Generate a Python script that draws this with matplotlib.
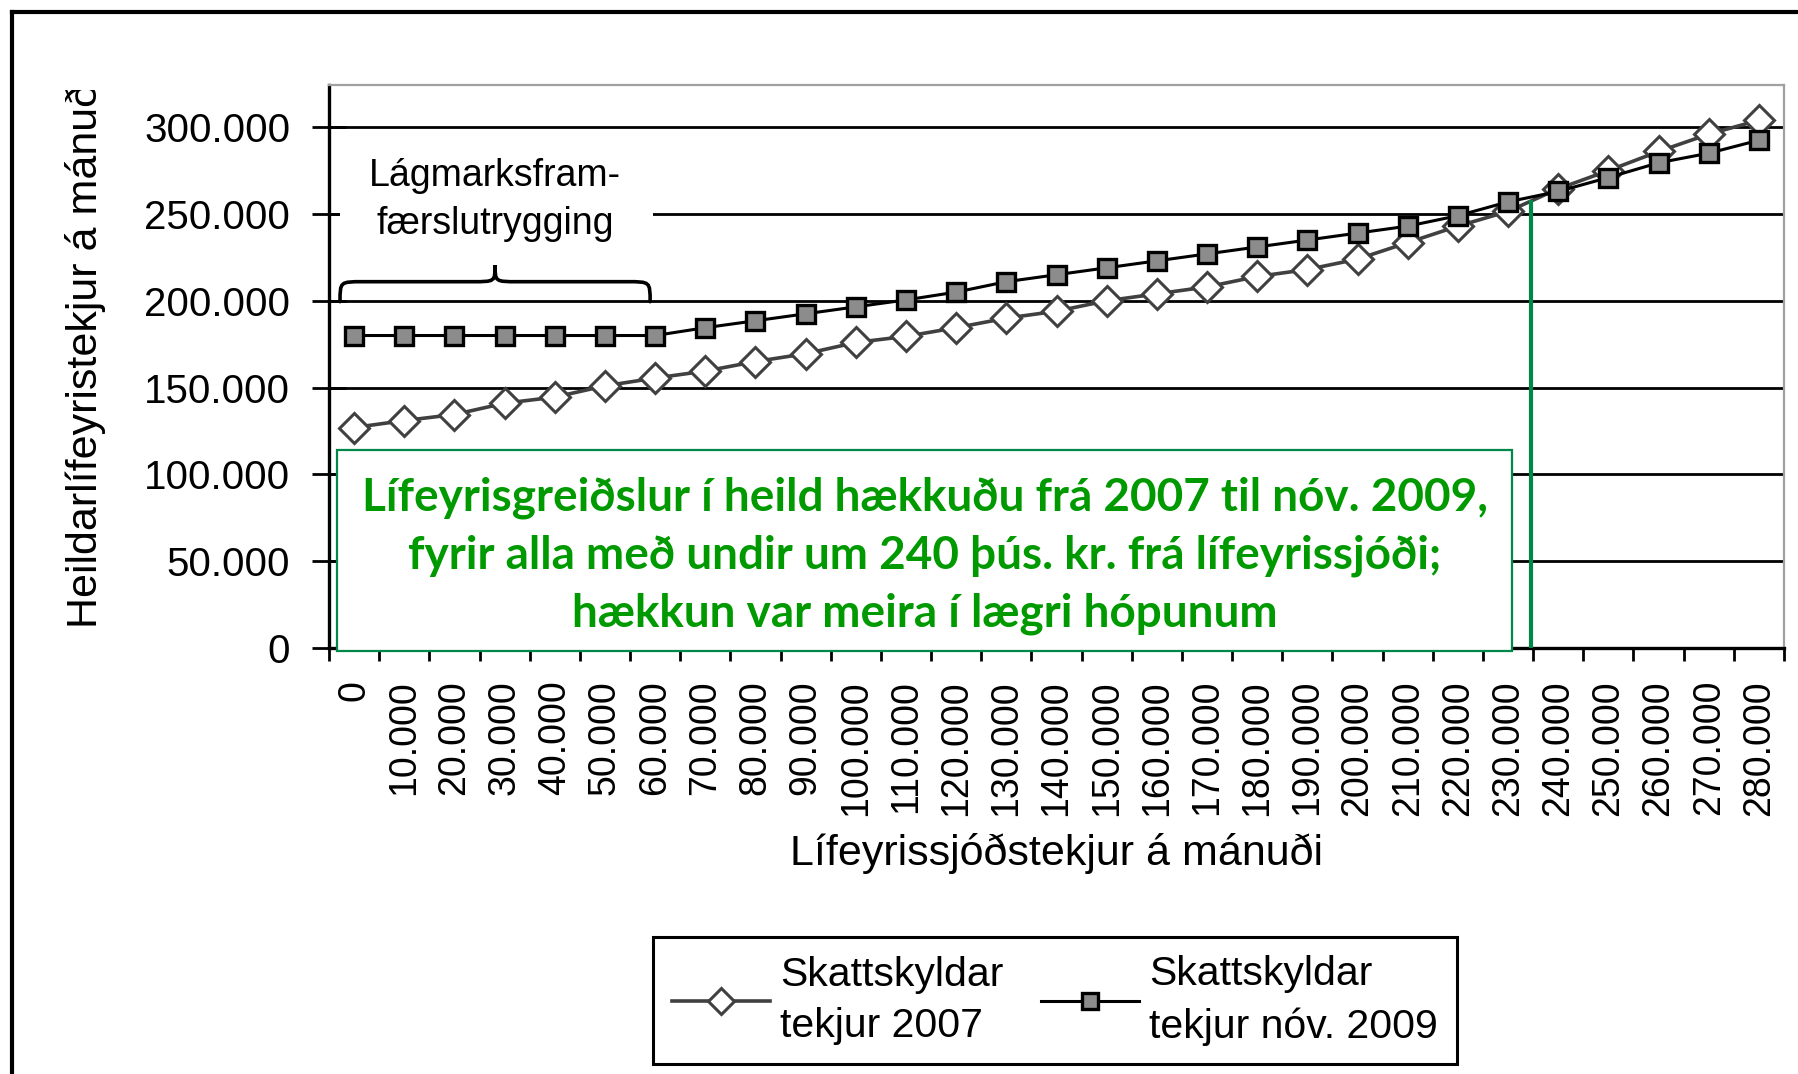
import numpy as np
import matplotlib.pyplot as plt
from matplotlib.patches import Rectangle, PathPatch
from matplotlib.path import Path
from matplotlib.lines import Line2D
from matplotlib.transforms import Bbox

plt.rcParams['font.family'] = ['Liberation Sans', 'DejaVu Sans']

# gögn
x_labels = ["0", "10.000", "20.000", "30.000", "40.000", "50.000", "60.000",
            "70.000", "80.000", "90.000", "100.000", "110.000", "120.000",
            "130.000", "140.000", "150.000", "160.000", "170.000", "180.000",
            "190.000", "200.000", "210.000", "220.000", "230.000", "240.000",
            "250.000", "260.000", "270.000", "280.000"]
tekjur_2007 = [127000, 131000, 134500, 141000, 144500, 151000, 155500,
               159500, 165000, 169500, 176000, 179500, 184500, 190000,
               194000, 200000, 204000, 208000, 214000, 218000, 224000,
               233500, 243000, 251500, 264500, 275000, 286000, 296000, 304000]
tekjur_2009 = [180000, 180000, 180000, 180000, 180000, 180000, 180000,
               184500, 188500, 192500, 196500, 200500, 205000, 211000,
               215000, 219000, 223000, 227000, 231000, 235000, 239000,
               243000, 249000, 257000, 263000, 271000, 279500, 285000, 292500]
y_ticks = [0, 50000, 100000, 150000, 200000, 250000, 300000]
y_labels = ["0", "50.000", "100.000", "150.000", "200.000", "250.000", "300.000"]
series_names = ["Skattskyldar\ntekjur 2007", "Skattskyldar\ntekjur nóv. 2009"]

W, H = 1798, 1074
fig = plt.figure(figsize=(W / 100, H / 100), dpi=100)
ax = fig.add_axes([329 / W, 1 - 648 / H, (1784 - 329) / W, (648 - 85) / H])

x = np.arange(len(x_labels))

l1, = ax.plot(x, tekjur_2007, color='#404040', lw=2.6, marker='D', markersize=15,
              markerfacecolor='white', markeredgecolor='#404040', markeredgewidth=2.2,
              zorder=3)
l2, = ax.plot(x, tekjur_2009, color='black', lw=2.2, marker='s', markersize=13.5,
              markerfacecolor='#8c8c8c', markeredgecolor='black', markeredgewidth=2.4,
              zorder=4)

ax.set_xlim(-0.5, len(x_labels) - 0.5)
ax.set_ylim(0, 324300)

ax.set_yticks(y_ticks)
ax.set_yticklabels(y_labels, fontsize=29)
ax.tick_params(axis='y', direction='inout', length=24, width=2, pad=16, colors='black')
ax.set_xticks(x)
ax.set_xticklabels(x_labels, rotation=90, fontsize=27)
ax.tick_params(axis='x', which='major', length=0, pad=23)
ax.set_xticks(np.arange(len(x_labels) + 1) - 0.5, minor=True)
ax.tick_params(axis='x', which='minor', direction='out', length=9, width=2)

ax.set_axisbelow(True)
ax.grid(axis='y', color='black', lw=2)
for s in ['left', 'bottom']:
    ax.spines[s].set_linewidth(2.4)
    ax.spines[s].set_color('black')
for s in ['top', 'right']:
    ax.spines[s].set_linewidth(1.6)
    ax.spines[s].set_color('#a0a0a0')

# græni kassinn
box = Rectangle((-0.34, -1500), 23.41, 115800, facecolor='white', edgecolor='#00884a',
                lw=1.6, zorder=5, clip_on=False)
ax.add_patch(box)
ax.text(11.37, 53000,
        "Lífeyrisgreiðslur í heild hækkuðu frá 2007 til nóv. 2009,\n"
        "fyrir alla með undir um 240 þús. kr. frá lífeyrissjóði;\n"
        "hækkun var meira í lægri hópunum",
        ha='center', va='center', fontsize=33, fontweight='bold', color='#009900',
        family=['Lato', 'DejaVu Sans'], linespacing=1.45, zorder=6)
ax.plot([23.45, 23.45], [0, 257000], color='#00884a', lw=3, zorder=5)

# slaufusvigi og texti
x0, x1, xm, r = -0.28, 5.9, 2.81, 0.45
y0, yh, yt = 199500, 211000, 220500
verts = [(x0, y0), (x0, yh), (x0, yh), (x0 + r, yh),
         (xm - r, yh),
         (xm, yh), (xm, yh), (xm, yt),
         (xm, yh), (xm, yh), (xm + r, yh),
         (x1 - r, yh),
         (x1, yh), (x1, yh), (x1, y0)]
codes = [Path.MOVETO, Path.CURVE4, Path.CURVE4, Path.CURVE4,
         Path.LINETO,
         Path.CURVE4, Path.CURVE4, Path.CURVE4,
         Path.CURVE4, Path.CURVE4, Path.CURVE4,
         Path.LINETO,
         Path.CURVE4, Path.CURVE4, Path.CURVE4]
ax.add_patch(PathPatch(Path(verts, codes), fill=False, edgecolor='black', lw=2.6,
                       capstyle='round', zorder=3))
ax.add_patch(Rectangle((-0.28, 238000), 6.24, 24000, facecolor='white', edgecolor='none',
                       zorder=1.5))
ax.text(xm, 258000, "Lágmarksfram-\nfærslutrygging", ha='center', va='center',
        fontsize=27, linespacing=1.45, zorder=3)

# ástitlar
fig.text(1056 / W, 1 - 854 / H, "Lífeyrissjóðstekjur á mánuði", ha='center', va='center',
         fontsize=31)
yl = fig.text(86 / W, 1 - 628 / H, "Heildarlífeyristekjur á mánuði", rotation=90,
              ha='center', va='bottom', fontsize=31)
yl.set_clip_box(Bbox.from_extents(0, 0, 400, H - 90))
yl.set_clip_on(True)

# skýringar
leg = ax.legend([l1, l2], series_names, ncol=2, fontsize=29.5, loc='upper center',
                bbox_to_anchor=(1055 / W, 1 - 937 / H), bbox_transform=fig.transFigure,
                frameon=True, fancybox=False, edgecolor='black', framealpha=1,
                handlelength=2.4, handletextpad=0.25, columnspacing=0.9,
                borderpad=0.45, borderaxespad=0, markerscale=0.85)
leg.get_frame().set_linewidth(2.2)
for t in leg.get_texts():
    t.set_linespacing(1.45)

# rammi
fig.add_artist(Line2D([12 / W, 1], [1 - 12 / H, 1 - 12 / H], transform=fig.transFigure,
                      color='black', lw=3))
fig.add_artist(Line2D([12 / W, 12 / W], [0, 1 - 12 / H], transform=fig.transFigure,
                      color='black', lw=3))

fig.savefig("out.png", dpi=100)
